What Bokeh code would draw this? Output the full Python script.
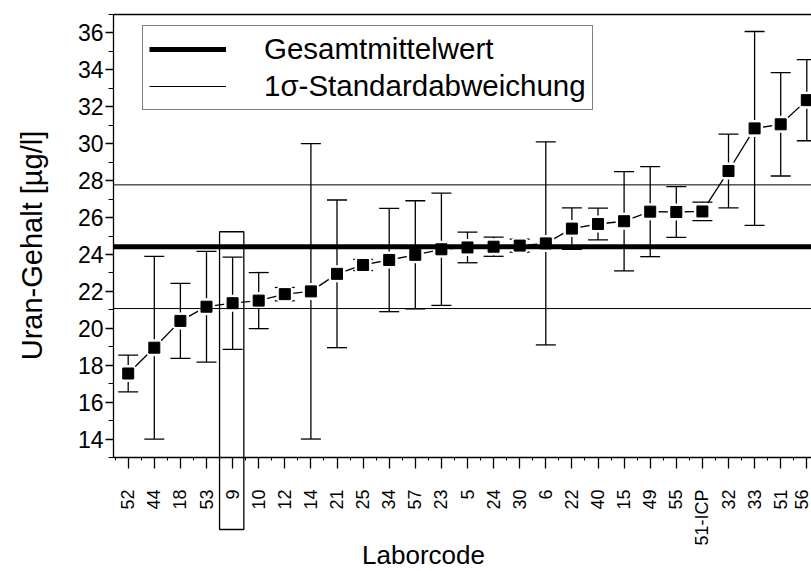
import math
from bokeh.plotting import figure
from bokeh.models import (Range1d, FixedTicker, ColumnDataSource, Whisker, TeeHead,
                          Legend, LegendItem, Label, BoxAnnotation)
from bokeh.embed import file_html
from bokeh.resources import INLINE

# ---- data ----
lab_codes = ["52", "44", "18", "53", "9", "10", "12", "14", "21", "25", "34", "57", "23",
             "5", "24", "30", "6", "22", "40", "15", "49", "55", "51-ICP", "32", "33", "51", "56"]
uran_values = [17.55, 18.95, 20.40, 21.17, 21.36, 21.50, 21.85, 22.00, 22.95, 23.43, 23.70, 23.98, 24.28,
               24.38, 24.42, 24.48, 24.60, 25.40, 25.65, 25.80, 26.32, 26.30, 26.33, 28.52, 30.83, 31.05, 32.36]
uran_errors = [1.00, 4.95, 2.03, 3.00, 2.50, 1.52, 0.36, 8.00, 4.00, 0.30, 2.80, 2.93, 3.04,
               0.83, 0.52, 0.35, 5.50, 1.12, 0.86, 2.69, 2.44, 1.37, 0.50, 2.00, 5.25, 2.80, 2.20]
mean_value = 24.42
sigma_value = 3.35
highlight_lab = "9"
y_ticks = list(range(14, 37, 2))
y_minor_ticks = list(range(13, 38, 2))
y_min, y_max = 13, 37

# ---- layout (pixels) ----
FONT = "Liberation Sans"
FIG_W, FIG_H = 811, 571
AX_LEFT_PX, AX_TOP_PX, AX_BOTTOM_PX = 113, 14, 457
X0_PX, STEP_PX = 127.7, 26.1
PPU = (AX_BOTTOM_PX - AX_TOP_PX) / (y_max - y_min)

n = len(lab_codes)
xs = list(range(n))
x_start = -X0_PX / STEP_PX
x_end = (FIG_W - X0_PX) / STEP_PX
x_left = (AX_LEFT_PX - X0_PX) / STEP_PX
y_start = y_min - (FIG_H - AX_BOTTOM_PX) / PPU
y_end = y_max + AX_TOP_PX / PPU

src = ColumnDataSource(dict(
    x=xs, y=uran_values,
    upper=[v + e for v, e in zip(uran_values, uran_errors)],
    lower=[v - e for v, e in zip(uran_values, uran_errors)],
))

p = figure(width=FIG_W, height=FIG_H, x_range=Range1d(x_start, x_end), y_range=Range1d(y_start, y_end),
           output_backend="svg", toolbar_location=None,
           min_border_left=0, min_border_right=0, min_border_top=0, min_border_bottom=0)
p.grid.visible = False
p.outline_line_color = None
p.background_fill_color = "white"
p.border_fill_color = "white"

# top border of the plot area
p.line([x_left, x_end], [y_max, y_max], line_color="black", line_width=1.3)

# connecting line
p.line("x", "y", source=src, line_color="black", line_width=1.3)
# white halo around markers (gap in connecting line)
p.scatter("x", "y", source=src, marker="square", size=11, fill_color="black",
          line_color="white", line_width=6)

# mean and sigma lines
mean_r = p.line([x_left, x_end], [mean_value, mean_value], line_color="black", line_width=5)
up_r = p.line([x_left, x_end], [mean_value + sigma_value] * 2, line_color="black", line_width=1)
p.line([x_left, x_end], [mean_value - sigma_value] * 2, line_color="black", line_width=1)

# error bars
w = Whisker(base="x", upper="upper", lower="lower", source=src, line_color="black", line_width=1.3,
            upper_head=TeeHead(size=20, line_width=1.3, line_color="black"),
            lower_head=TeeHead(size=20, line_width=1.3, line_color="black"))
p.add_layout(w)

# markers
p.scatter("x", "y", source=src, marker="square", size=11, fill_color="black", line_color="black")

# highlight box around lab 9 (reaches down over its tick label)
hi = lab_codes.index(highlight_lab)
box_bottom = y_min - (529 - AX_BOTTOM_PX) / PPU
box = BoxAnnotation(left=hi - 0.5, right=hi + 0.43, bottom=box_bottom, top=25.23,
                    fill_alpha=0, line_color="black", line_alpha=1, line_width=1.3)
p.add_layout(box)

# axes (fixed inside the frame)
xa = p.xaxis[0]
xa.fixed_location = y_min
xa.bounds = (x_left, x_end)
xa.ticker = FixedTicker(ticks=xs, minor_ticks=[i - 0.5 for i in range(n + 1)])
xa.major_label_overrides = {i: lab for i, lab in enumerate(lab_codes)}
xa.major_label_orientation = math.pi / 2
xa.major_tick_out = 11
xa.major_tick_in = 0
xa.minor_tick_out = 3
xa.minor_tick_in = 0
xa.axis_line_width = 1.3
xa.major_tick_line_width = 1.3
xa.major_label_standoff = 21
xa.major_label_text_font = FONT
xa.major_label_text_font_size = "18px"
xa.major_label_text_color = "black"

ya = p.yaxis[0]
ya.fixed_location = x_left
ya.bounds = (y_min, y_max)
ya.ticker = FixedTicker(ticks=y_ticks, minor_ticks=y_minor_ticks)
ya.major_tick_out = 8
ya.major_tick_in = 0
ya.minor_tick_out = 5
ya.minor_tick_in = 0
ya.axis_line_width = 1.3
ya.major_tick_line_width = 1.3
ya.major_label_standoff = 2
ya.major_label_text_font = FONT
ya.major_label_text_font_size = "23px"
ya.major_label_text_color = "black"

# axis titles
p.add_layout(Label(x=31, y=FIG_H - 245, x_units="screen", y_units="screen", text="Uran-Gehalt [µg/l]",
                   angle=math.pi / 2, text_align="center", text_baseline="middle",
                   text_font=FONT, text_font_size="29px", text_color="black"))
p.add_layout(Label(x=423, y=FIG_H - 554, x_units="screen", y_units="screen", text="Laborcode",
                   text_align="center", text_baseline="middle",
                   text_font=FONT, text_font_size="26px", text_color="black"))

legend = Legend(items=[LegendItem(label="Gesamtmittelwert", renderers=[mean_r]),
                       LegendItem(label="1σ-Standardabweichung", renderers=[up_r])],
                location=(142, FIG_H - 110), glyph_width=77, glyph_height=32, label_standoff=38,
                label_width=320, label_height=32, padding=6, spacing=3, margin=0,
                border_line_color="black", border_line_width=1.3,
                background_fill_color="white", background_fill_alpha=1,
                label_text_font=FONT, label_text_font_size="29.5px", label_text_color="black")
p.add_layout(legend)

open("out.html", "w").write(file_html(p, INLINE))
